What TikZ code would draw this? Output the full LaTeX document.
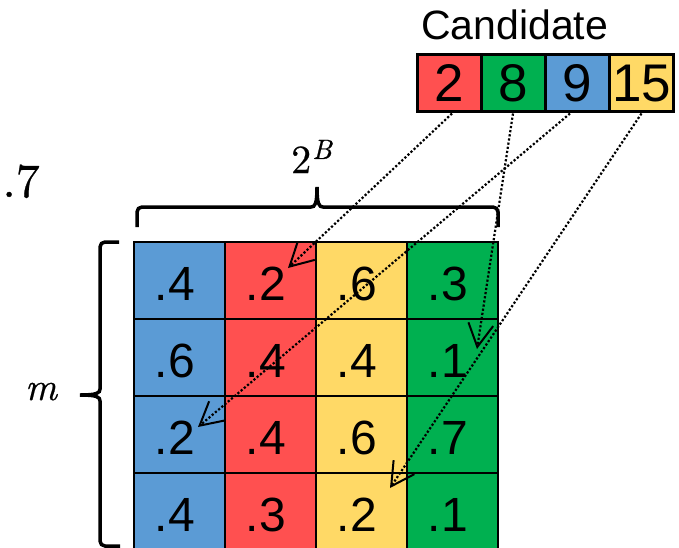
\documentclass[tikz,border=0pt]{standalone}
\usepackage[no-math]{fontspec}
\newfontfamily\arial{Liberation Sans}
\newfontfamily\lmheavy[FakeBold=0.5]{lmroman10-regular.otf}
\newfontfamily\lmheavyit[FakeBold=0.5]{lmroman10-italic.otf}
\usetikzlibrary{arrows.meta}
\definecolor{cblue}{RGB}{91,155,213}
\definecolor{cred}{RGB}{255,80,80}
\definecolor{cyellow}{RGB}{255,217,102}
\definecolor{cgreen}{RGB}{0,176,80}
\begin{document}
\begin{tikzpicture}[x=1pt,y=-1pt,
  cell/.style={draw=black,line width=2.5pt,minimum width=91pt,minimum height=77pt,inner sep=0pt,
    text height=39pt,text depth=0pt,font=\arial\fontsize{48}{56}\selectfont},
  cand/.style={draw=black,line width=3pt,minimum width=64pt,minimum height=57pt,inner sep=0pt,
    text height=37pt,text depth=0pt,font=\arial\fontsize{53}{60}\selectfont},
  link/.style={line width=2.2pt,dash pattern=on 2.2pt off 2pt,
    -{Straight Barb[length=23pt,width=25pt,line width=2pt]}},
  bracestyle/.style={line width=3.5pt,line cap=butt}]
\useasboundingbox (0,0) rectangle (679,548);
\clip (0,0) rectangle (679,548);

% grid
\foreach \row [count=\r] in {{.4,.2,.6,.3},{.6,.4,.4,.1},{.2,.4,.6,.7},{.4,.3,.2,.1}} {
  \foreach \v [count=\c] in \row {
    \pgfmathparse{{"cblue","cred","cyellow","cgreen"}[\c-1]}
    \edef\cc{\pgfmathresult}
    \node[cell,fill=\cc] (g\r\c) at (88.5+91*\c,203.5+77*\r) {\v\kern9pt};
  }
}

% candidate
\node[anchor=base west,inner sep=0pt,font=\arial\fontsize{41}{48}\selectfont] (cl) at (421,40) {Candidate};
\node[cand,fill=cred] (c1) at (449,83.5) {2};
\node[cand,fill=cgreen] (c2) at (513,83.5) {8};
\node[cand,fill=cblue] (c3) at (577,83.5) {9};
\node[cand,fill=cyellow] (c4) at (641.5,83.5) {15};

% arrow tips
\coordinate (t1) at (288,268);
\coordinate (t2) at (477,349);
\coordinate (t3) at (198,427);
\coordinate (t4) at (390,488);
\draw[link] ([xshift=3pt]c1.south) -- (t1);
\draw[link] (c2.south) -- (t2);
\draw[link] ([xshift=-7pt]c3.south) -- (t3);
\draw[link] (c4.south) -- (t4);

% top brace
\draw[bracestyle] (137,227) [rounded corners=5pt] -- (137,207) [sharp corners] -- (311,207)
  .. controls (315,207) and (317,204) .. (317,187)
  .. controls (317,204) and (319,207) .. (323,207) [rounded corners=5pt] -- (498,207) -- (498,227);
\node[font=\lmheavy\fontsize{40}{44}\selectfont,anchor=base west,inner sep=0pt] (lb) at (291,173)
  {2\hspace{1pt}\raisebox{14pt}{\lmheavyit\fontsize{28}{30}\selectfont B}};

% left brace
\draw[bracestyle] (119,242) [rounded corners=5pt] -- (100,242) [sharp corners] -- (100,389)
  .. controls (100,393) and (97,395) .. (80,395)
  .. controls (97,395) and (100,397) .. (100,401) [rounded corners=5pt] -- (100,546) -- (120,546);
\node[font=\lmheavyit\fontsize{39}{44}\selectfont,anchor=base,inner sep=0pt] (ml) at (41,400) {m};

% stray label
\node[font=\lmheavy\fontsize{48}{54}\selectfont,anchor=base east,inner sep=0pt] (s7) at (40,197) {.7};
\end{tikzpicture}
\end{document}
